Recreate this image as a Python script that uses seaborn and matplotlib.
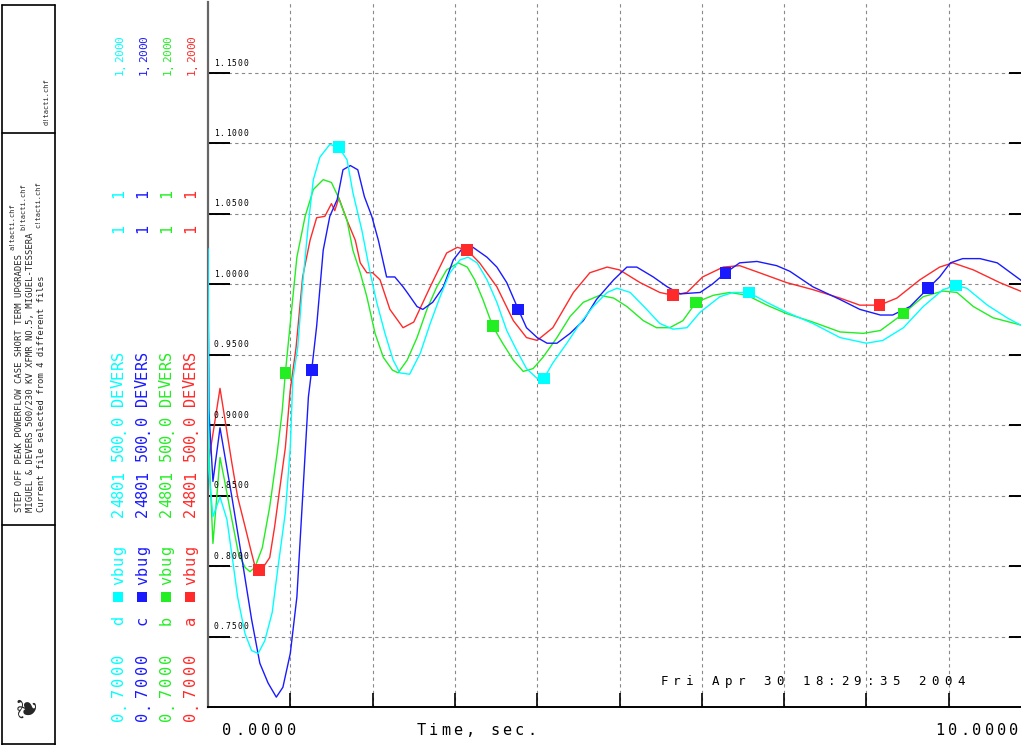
import numpy as np
import matplotlib
matplotlib.use("Agg")
import matplotlib.pyplot as plt
import matplotlib.transforms as mtransforms
from matplotlib.patches import Rectangle
from matplotlib.lines import Line2D
import seaborn as sns

# ---- data (time in sec, voltage in pu) ----
t_a = [0, 0.01, 0.05, 0.146, 0.29, 0.36, 0.45, 0.53, 0.57, 0.62, 0.67, 0.75, 0.81, 0.87, 0.94, 1.0, 1.07,
       1.15, 1.24, 1.32, 1.42, 1.5, 1.54, 1.59, 1.69, 1.79, 1.85, 1.93, 2.0, 2.09, 2.21, 2.37, 2.5, 2.7, 2.9,
       3.03, 3.15, 3.3, 3.51, 3.71, 3.87, 4.0, 4.19, 4.44, 4.64, 4.85, 5.0, 5.25, 5.49, 5.65, 5.82, 6.01,
       6.26, 6.46, 6.7, 7.03, 7.35, 7.68, 7.92, 8.16, 8.37, 8.65, 8.89, 9.05, 9.3, 9.62, 9.87, 10.0]
v_a = [1.025, 0.875, 0.89, 0.926, 0.873, 0.849, 0.828, 0.809, 0.8, 0.797, 0.799, 0.806, 0.828, 0.854, 0.884,
       0.925, 0.955, 1.005, 1.031, 1.047, 1.048, 1.057, 1.052, 1.061, 1.045, 1.031, 1.015, 1.008, 1.008, 1.003,
       0.982, 0.969, 0.973, 0.998, 1.022, 1.026, 1.024, 1.015, 0.998, 0.974, 0.962, 0.96, 0.969, 0.994, 1.008,
       1.012, 1.01, 1.001, 0.994, 0.992, 0.994, 1.005, 1.012, 1.013, 1.008, 1.001, 0.996, 0.99, 0.985, 0.985,
       0.99, 1.003, 1.012, 1.015, 1.01, 1.001, 0.995, 0.992]

t_b = [0, 0.005, 0.06, 0.146, 0.2, 0.29, 0.37, 0.45, 0.51, 0.57, 0.66, 0.75, 0.84, 0.9, 0.94, 1.02, 1.08,
       1.18, 1.28, 1.4, 1.5, 1.58, 1.69, 1.76, 1.85, 1.93, 2.03, 2.13, 2.24, 2.31, 2.42, 2.54, 2.66, 2.78,
       2.9, 3.04, 3.15, 3.24, 3.34, 3.46, 3.58, 3.71, 3.83, 3.95, 4.07, 4.24, 4.4, 4.56, 4.76, 4.93, 5.09,
       5.29, 5.45, 5.61, 5.77, 5.93, 6.14, 6.34, 6.55, 6.79, 7.03, 7.35, 7.68, 7.96, 8.17, 8.45, 8.69, 8.93,
       9.1, 9.3, 9.54, 9.87, 10.0]
v_b = [1.025, 0.889, 0.816, 0.877, 0.861, 0.833, 0.809, 0.799, 0.796, 0.799, 0.813, 0.842, 0.88, 0.909,
       0.937, 0.984, 1.019, 1.048, 1.067, 1.074, 1.072, 1.062, 1.045, 1.024, 1.008, 0.991, 0.965, 0.948,
       0.939, 0.937, 0.946, 0.962, 0.982, 0.998, 1.01, 1.015, 1.012, 1.003, 0.989, 0.97, 0.958, 0.946, 0.938,
       0.94, 0.948, 0.962, 0.977, 0.987, 0.992, 0.99, 0.984, 0.974, 0.969, 0.969, 0.974, 0.987, 0.992, 0.994,
       0.992, 0.985, 0.979, 0.973, 0.966, 0.965, 0.967, 0.979, 0.991, 0.995, 0.994, 0.984, 0.976, 0.971, 0.969]

t_c = [0, 0.01, 0.06, 0.146, 0.29, 0.41, 0.53, 0.63, 0.73, 0.83, 0.91, 1.0, 1.08, 1.15, 1.22, 1.26, 1.32,
       1.4, 1.48, 1.57, 1.64, 1.73, 1.82, 1.9, 1.99, 2.07, 2.17, 2.27, 2.37, 2.42, 2.54, 2.61, 2.73, 2.86,
       2.98, 3.1, 3.22, 3.39, 3.51, 3.63, 3.77, 3.87, 4.0, 4.12, 4.24, 4.4, 4.56, 4.72, 4.93, 5.09, 5.21,
       5.41, 5.58, 5.74, 5.98, 6.13, 6.29, 6.46, 6.67, 6.91, 7.07, 7.35, 7.68, 7.92, 8.17, 8.32, 8.53, 8.75,
       8.89, 9.02, 9.17, 9.38, 9.59, 9.87, 10.0]
v_c = [1.025, 0.911, 0.86, 0.898, 0.849, 0.806, 0.762, 0.731, 0.717, 0.707, 0.714, 0.738, 0.778, 0.849,
       0.92, 0.939, 0.97, 1.024, 1.048, 1.06, 1.081, 1.084, 1.081, 1.062, 1.048, 1.031, 1.005, 1.005, 0.998,
       0.994, 0.984, 0.982, 0.987, 0.998, 1.017, 1.026, 1.026, 1.019, 1.012, 1.001, 0.982, 0.969, 0.962,
       0.958, 0.958, 0.965, 0.974, 0.989, 1.003, 1.012, 1.012, 1.005, 0.998, 0.993, 0.994, 1.0, 1.008, 1.015,
       1.016, 1.013, 1.009, 0.998, 0.989, 0.982, 0.978, 0.978, 0.984, 0.997, 1.005, 1.015, 1.018, 1.018,
       1.015, 1.003, 0.997]

t_d = [0, 0.01, 0.06, 0.146, 0.23, 0.3, 0.36, 0.45, 0.53, 0.61, 0.69, 0.78, 0.85, 0.94, 1.0, 1.03, 1.09,
       1.15, 1.22, 1.28, 1.36, 1.48, 1.59, 1.69, 1.76, 1.87, 1.97, 2.05, 2.15, 2.25, 2.33, 2.45, 2.58, 2.7,
       2.82, 2.94, 3.06, 3.16, 3.27, 3.39, 3.51, 3.63, 3.75, 3.87, 4.0, 4.08, 4.19, 4.36, 4.52, 4.68, 4.85,
       4.97, 5.13, 5.33, 5.49, 5.65, 5.82, 5.98, 6.22, 6.38, 6.57, 6.79, 7.03, 7.35, 7.68, 8.0, 8.2, 8.45,
       8.69, 8.93, 9.09, 9.22, 9.47, 9.71, 9.87, 10.0]
v_d = [1.025, 0.868, 0.835, 0.849, 0.833, 0.804, 0.778, 0.752, 0.74, 0.738, 0.747, 0.767, 0.799, 0.838,
       0.884, 0.932, 0.955, 1.0, 1.043, 1.074, 1.09, 1.099, 1.097, 1.088, 1.065, 1.038, 1.008, 0.987, 0.965,
       0.946, 0.937, 0.936, 0.951, 0.972, 0.991, 1.008, 1.017, 1.019, 1.015, 1.003, 0.987, 0.967, 0.953,
       0.94, 0.933, 0.933, 0.944, 0.958, 0.972, 0.984, 0.994, 0.997, 0.994, 0.982, 0.972, 0.968, 0.969,
       0.98, 0.991, 0.994, 0.994, 0.987, 0.98, 0.972, 0.962, 0.958, 0.96, 0.969, 0.984, 0.996, 0.999,
       0.997, 0.985, 0.976, 0.971, 0.968]

# square symbols along each trace
mt_a = [0.62, 3.15, 5.65, 8.16]
mv_a = [0.797, 1.024, 0.992, 0.985]
mt_b = [0.94, 3.46, 5.93, 8.45]
mv_b = [0.937, 0.970, 0.987, 0.979]
mt_c = [1.26, 3.77, 6.29, 8.75]
mv_c = [0.939, 0.982, 1.008, 0.997]
mt_d = [1.59, 4.08, 6.57, 9.09]
mv_d = [1.097, 0.933, 0.994, 0.999]

channel_ids = ["a", "b", "c", "d"]
channel_colors = ["#ff2a2a", "#22ee22", "#1a1aff", "#00ffff"]
yticks = [0.75, 0.80, 0.85, 0.90, 0.95, 1.00, 1.05, 1.10, 1.15]
ytick_labels = ["0.7500", "0.8000", "0.8500", "0.9000", "0.9500", "1.0000", "1.0500", "1.1000", "1.1500"]
y_min, y_max = 0.70, 1.20
t_min, t_max = 0.0, 10.0

W, H = 1021, 745
MONO = "DejaVu Sans Mono"
PIX = mtransforms.IdentityTransform()

sns.set_style("white")
fig = plt.figure(figsize=(W / 100, H / 100), dpi=100)
# the right edge of the plot frame sits just outside the picture
ax = fig.add_axes([208 / W, (H - 707) / H, (1031 - 208) / W, (707 - 2) / H])

series = [(t_a, v_a, mt_a, mv_a), (t_b, v_b, mt_b, mv_b), (t_c, v_c, mt_c, mv_c), (t_d, v_d, mt_d, mv_d)]
for (t, v, mt, mv), col in zip(series, channel_colors):
    sns.lineplot(x=t, y=v, color=col, lw=1.0, ax=ax, sort=False, estimator=None, zorder=3)
for (t, v, mt, mv), col in zip(series, channel_colors):
    sns.scatterplot(x=mt, y=mv, marker="s", s=70, color=col, edgecolor="none", ax=ax, zorder=4)

ax.set_xlim(t_min, t_max)
ax.set_ylim(y_min, y_max)
ax.set_xticks(np.arange(1, 10))
ax.set_yticks(yticks)
ax.set_xticklabels([])
ax.set_yticklabels([])
ax.set_xlabel("")
ax.set_ylabel("")
ax.grid(True, color="#8a8a8a", lw=0.8, linestyle=(0, (3, 3)), zorder=0)
ax.tick_params(axis="y", which="both", direction="in", length=16, width=1.4, color="black",
               left=True, right=True)
ax.tick_params(axis="x", direction="in", length=10, width=1.2, color="black", bottom=True, top=False)
ax.spines["top"].set_visible(False)
ax.spines["left"].set_color("#666666")
ax.spines["left"].set_linewidth(1.6)
ax.spines["bottom"].set_color("black")
ax.spines["bottom"].set_linewidth(1.4)
ax.spines["right"].set_color("black")


def put(s, x, y, pitch, size, color="black", vertical=False):
    # plotter style text: one glyph every `pitch` pixels, (x, y) in picture pixels from top-left
    for i, ch in enumerate(s):
        if ch == " ":
            continue
        if vertical:
            fig.text(x, H - (y - i * pitch), ch, rotation=90, rotation_mode="anchor", ha="center",
                     va="baseline", fontsize=size, color=color, family=MONO, transform=PIX)
        else:
            fig.text(x + i * pitch, H - y, ch, ha="center", va="baseline", fontsize=size,
                     color=color, family=MONO, transform=PIX)


# y labels inside the frame, just above each grid line
for val, lab in zip(yticks, ytick_labels):
    gx, gy = ax.transData.transform((0, val))
    put(lab, gx + 8, H - gy - 7, 6, 5.8)

# bottom labels and date stamp
put("0.0000", 227, 735, 13, 11)
put("Time, sec.", 421, 735, 12.3, 11)
put("10.0000", 940, 735, 12.3, 11)
put("Fri Apr 30 18:29:35 2004", 664, 685, 12.9, 9)

# channel legend, written bottom to top in four columns
col_x = [195, 171, 147, 123]
for cid, col, x in zip(channel_ids, channel_colors, col_x):
    put("0.7000", x, 716, 11.6, 11, col, True)
    put(cid, x, 620, 10, 11, col, True)
    fig.add_artist(Rectangle((x - 10, H - 602), 10, 10, transform=PIX, color=col, lw=0))
    put("vbug", x, 580, 10, 11, col, True)
    put("24801 500.0 DEVERS", x, 512, 9.2, 11, col, True)
    put("1  1", x, 228, 11.5, 11, col, True)
    put("1.2000", x, 72, 6.5, 8, col, True)

# title strip at the far left
for (x0, y0, x1, y1) in [(2, 5, 2, 745), (55, 5, 55, 745), (2, 5, 55, 5), (2, 133, 55, 133),
                         (2, 525, 55, 525), (2, 744, 55, 744)]:
    fig.add_artist(Line2D([x0, x1], [H - y0, H - y1], transform=PIX, color="black", lw=1.2))


def strip_text(x, y, s, size):
    fig.text(x, H - y, s, rotation=90, ha="center", va="bottom", fontsize=size, family=MONO,
             transform=PIX)


strip_text(47, 125, "d!tacti.chf", 5)
strip_text(20, 512, "STEP OFF PEAK POWERFLOW CASE SHORT TERM UPGRADES", 6.4)
strip_text(13, 250, "a!tacti.chf", 5)
strip_text(31, 512, "MIGUEL & DEVERS 500/230 KV XFMR NO.5, MIGUEL-TESSERA", 6.4)
strip_text(23, 230, "b!tacti.chf", 5)
strip_text(38, 228, "c!tacti.chf", 5)
strip_text(42, 512, "Current file selected from 4 different files", 6.4)
fig.text(28, H - 706, "\u2766", rotation=90, ha="center", va="center", fontsize=20,
         family="DejaVu Sans", transform=PIX)

fig.savefig("out.png", dpi=100)
